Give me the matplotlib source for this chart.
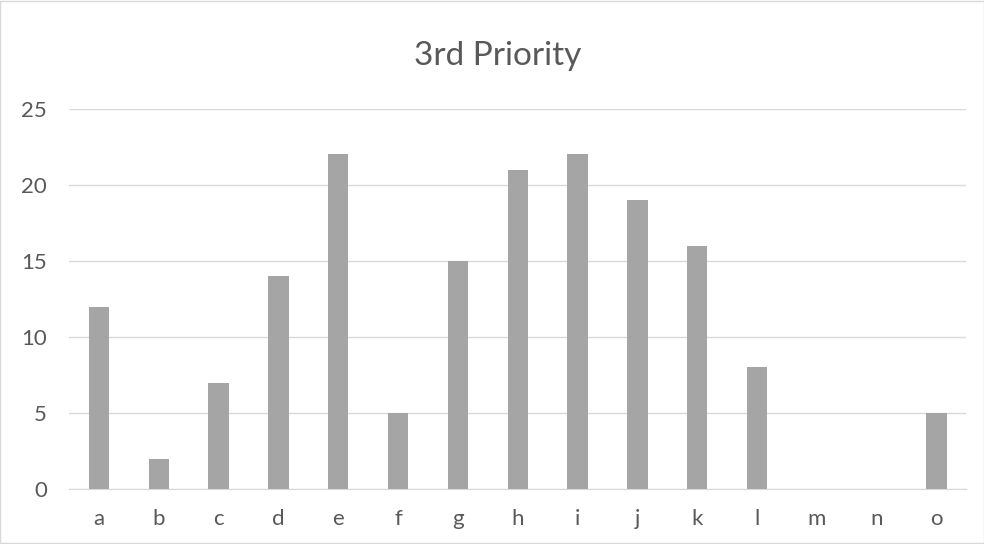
import matplotlib.pyplot as plt
from matplotlib.patches import Rectangle

categories = ['a', 'b', 'c', 'd', 'e', 'f', 'g', 'h', 'i', 'j', 'k', 'l', 'm', 'n', 'o']
values = [12, 2, 7, 14, 22, 5, 15, 21, 22, 19, 16, 8, 0, 0, 5]
y_ticks = [0, 5, 10, 15, 20, 25]

plt.rcParams['font.family'] = ['Lato', 'DejaVu Sans']

fig = plt.figure(figsize=(9.84, 5.44), dpi=100)
# thin border round the chart
fig.patches.append(Rectangle((0.0005, 0.001), 0.999, 0.998, transform=fig.transFigure,
                             fill=False, edgecolor='#d9d9d9', linewidth=1))
ax = fig.add_axes([0.0701, 0.101, 0.912, 0.699])

x = range(len(categories))
ax.bar(x, values, width=0.34, color='#a5a5a5', zorder=3)

ax.set_xlim(-0.5, len(categories) - 0.5)
ax.set_ylim(0, 25)
ax.set_yticks(y_ticks)
ax.set_xticks(list(x))
ax.set_xticklabels(categories)
ax.yaxis.grid(True, color='#d9d9d9', linewidth=1, zorder=0)
ax.tick_params(axis='both', length=0, labelsize=16, colors='#595959')
ax.tick_params(axis='x', pad=14)
ax.tick_params(axis='y', pad=16)

for side in ['top', 'right', 'left']:
    ax.spines[side].set_visible(False)
ax.spines['bottom'].set_color('#d9d9d9')

fig.text(0.506, 0.8805, '3rd Priority', ha='center', va='baseline', fontsize=24, color='#595959')

fig.savefig('out.png', dpi=100)
